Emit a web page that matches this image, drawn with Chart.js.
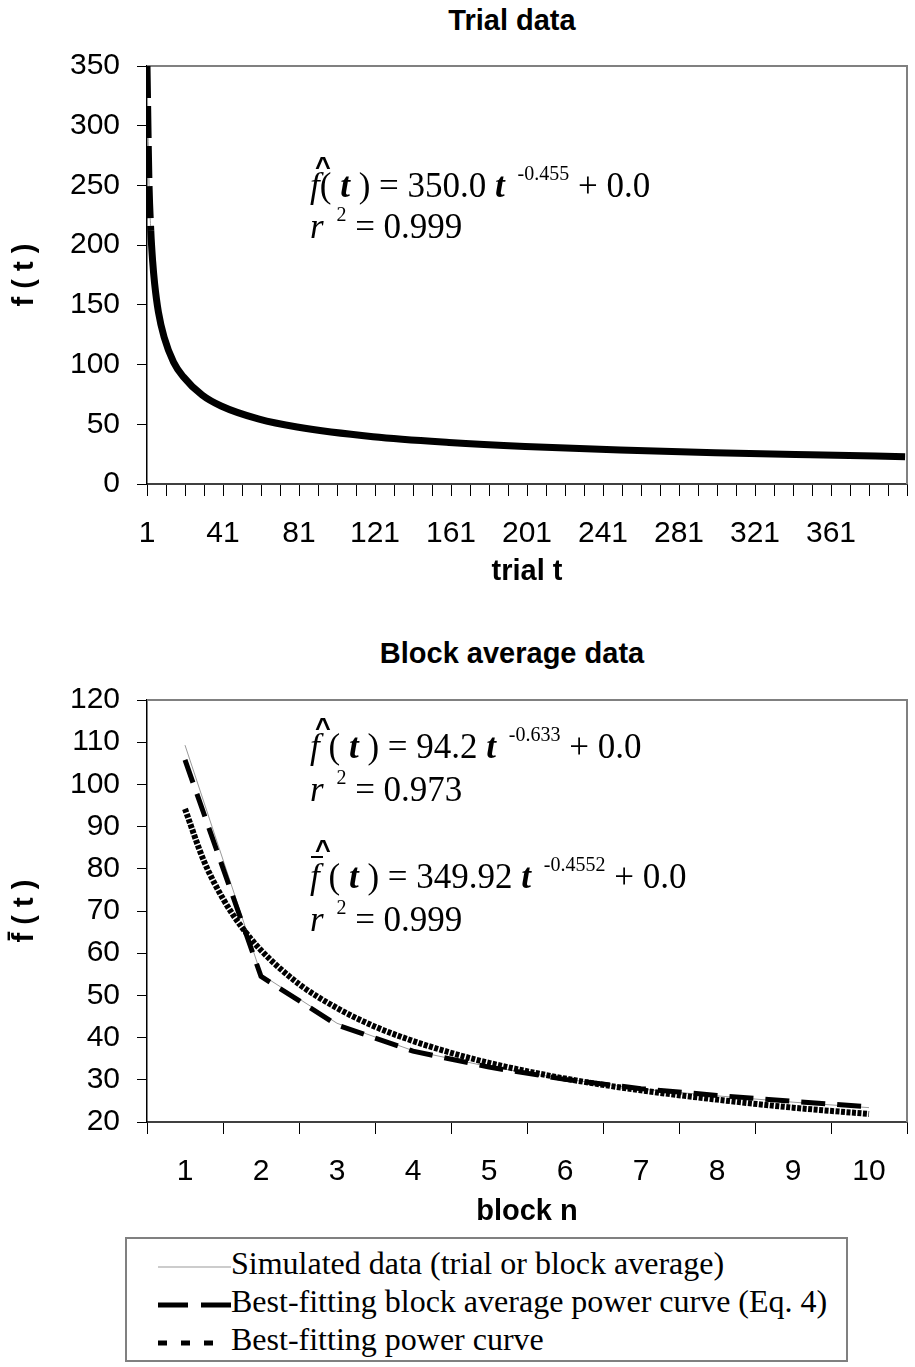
<!DOCTYPE html>
<html>
<head>
<meta charset="utf-8">
<script src="https://cdn.jsdelivr.net/npm/chart.js@4.4.0/dist/chart.umd.min.js"></script>
<style>
  body { margin: 0; background: #fff; }
  #page { position: relative; width: 915px; height: 1367px; overflow: hidden; background: #fff; }
  canvas { position: absolute; left: 0; }
  .title { position: absolute; left: 362px; width: 300px; text-align: center; font: bold 29px "Liberation Sans", Arial, sans-serif; color: #000; }
  .eq { position: absolute; left: 310px; font: 35px "Liberation Serif", "Times New Roman", serif; line-height: 1; white-space: nowrap; color: #000; }
  .eq b { font-style: italic; font-weight: bold; }
  .eq i { font-style: italic; }
  .eq sup { font-size: 20px; position: relative; top: -5px; vertical-align: top; margin-left: 4px; }
  .f { font-style: italic; position: relative; }
  .hat::after { content: "^"; position: absolute; left: 5px; top: -14px; font: bold 27px "Liberation Sans", Arial, sans-serif; }
  .bar::before { content: ""; position: absolute; left: 1px; right: -3px; top: -1px; border-top: 2px solid #000; }
  .bar.hat::after { top: -22px; }
  #legend { position: absolute; left: 125px; top: 1237px; width: 719px; height: 121px; border: 2px solid #808080; }
  .row { position: absolute; left: 31px; height: 38px; font: 32px "Liberation Serif", "Times New Roman", serif; line-height: 38px; white-space: nowrap; }
  .row svg { vertical-align: middle; }
</style>
</head>
<body>
<div id="page">
  <div class="title" style="top:4px">Trial data</div>
  <canvas id="trialChart" width="915" height="600" style="top:0"></canvas>

  <div class="title" style="top:637px">Block average data</div>
  <canvas id="blockChart" width="915" height="630" style="top:600px"></canvas>

  <div class="eq" style="top:168px"><span class="f hat">f</span>( <b>t</b> ) = 350.0 <b>t</b> <sup>-0.455</sup> + 0.0</div>
  <div class="eq" style="top:209px"><i>r</i> <sup>2</sup> = 0.999</div>

  <div class="eq" style="top:729px"><span class="f hat">f</span> ( <b>t</b> ) = 94.2 <b>t</b> <sup>-0.633</sup> + 0.0</div>
  <div class="eq" style="top:772px"><i>r</i> <sup>2</sup> = 0.973</div>
  <div class="eq" style="top:859px"><span class="f bar hat">f</span> ( <b>t</b> ) = 349.92 <b>t</b> <sup>-0.4552</sup> + 0.0</div>
  <div class="eq" style="top:902px"><i>r</i> <sup>2</sup> = 0.999</div>

  <div id="legend">
    <div class="row" style="top:5px"><svg width="73" height="12"><line x1="0" y1="6" x2="73" y2="6" stroke="#999" stroke-width="1"/></svg>Simulated data (trial or block average)</div>
    <div class="row" style="top:43px"><svg width="73" height="12"><line x1="0" y1="6" x2="73" y2="6" stroke="#000" stroke-width="5" stroke-dasharray="30 13"/></svg>Best-fitting block average power curve (Eq. 4)</div>
    <div class="row" style="top:81px"><svg width="73" height="12"><line x1="0" y1="6" x2="60" y2="6" stroke="#000" stroke-width="5" stroke-dasharray="9 14"/></svg>Best-fitting power curve</div>
  </div>
</div>

<script>
// top chart: trial data
const trialT = [1, 2, 3, 4, 5, 7, 10, 15, 20, 30, 40, 60, 80, 120, 160, 200, 250, 300, 350, 400];
const trialSimulated = [350, 255, 212, 186, 168, 144, 123, 102, 90, 74.5, 65.3, 54.3, 47.7, 39.6, 34.8, 31.4, 28.4, 26.1, 24.4, 22.9];
const trialFit = [350, 255, 212, 186, 168, 144, 123, 102, 90, 74.5, 65.3, 54.3, 47.7, 39.6, 34.8, 31.4, 28.4, 26.1, 24.4, 22.9];
const trialTickLabels = [1, 41, 81, 121, 161, 201, 241, 281, 321, 361];

// bottom chart: block averages
const blocks = [1, 2, 3, 4, 5, 6, 7, 8, 9, 10];
const blockSimulated = [109.3, 55.0, 43.4, 36.9, 33.1, 30.2, 27.8, 26.2, 24.7, 23.4];
const blockFitEq4 = [105.8, 54.5, 43.0, 36.8, 33.0, 30.1, 27.9, 26.3, 24.9, 23.6];
const powerX = [1, 1.25, 1.5, 1.75, 2, 2.5, 3, 3.5, 4, 4.5, 5, 6, 7, 8, 9, 10];
const powerFit = [94.2, 81.8, 72.9, 66.1, 60.7, 52.7, 47.0, 42.6, 39.2, 36.4, 34.0, 30.3, 27.5, 25.3, 23.4, 21.9];

const sans = 'Liberation Sans';

function pts(xs, ys) {
  return xs.map((x, i) => ({ x: x, y: ys[i] }));
}

// gray frame on top and right of the plot area
const frame = {
  id: 'frame',
  beforeDatasetsDraw(chart) {
    const { ctx, chartArea: a } = chart;
    ctx.save();
    ctx.strokeStyle = '#808080';
    ctx.lineWidth = 2;
    ctx.beginPath();
    ctx.moveTo(a.left, a.top);
    ctx.lineTo(a.right, a.top);
    ctx.lineTo(a.right, a.bottom);
    ctx.stroke();
    ctx.restore();
  }
};

function yAxis(min, max, step, title) {
  return {
    min: min, max: max,
    ticks: { stepSize: step, padding: 17, color: '#000', font: { family: sans, size: 30 } },
    grid: { drawOnChartArea: false, tickLength: 10, color: '#000' },
    border: { color: '#000', width: 1.5 },
    title: { display: true, text: title, color: '#000', font: { family: sans, size: 29, weight: 'bold' }, padding: 0 },
    afterFit: s => { s.width = 139; }
  };
}

function xFit(h) {
  return s => { s.height = h; s.paddingLeft = 0; s.paddingRight = 0; };
}

new Chart(document.getElementById('trialChart'), {
  type: 'line',
  data: {
    datasets: [
      {
        label: 'Best-fitting power curve',
        data: pts(trialT, trialFit),
        borderColor: '#000',
        borderWidth: 7,
        pointRadius: 0,
        cubicInterpolationMode: 'monotone',
        segment: { borderDash: c => c.p1.parsed.x <= 3 ? [32, 8] : undefined }
      },
      {
        label: 'Simulated data',
        data: pts(trialT, trialSimulated),
        borderColor: '#999',
        borderWidth: 1,
        pointRadius: 0,
        cubicInterpolationMode: 'monotone'
      }
    ]
  },
  options: {
    responsive: false,
    animation: false,
    devicePixelRatio: 1,
    layout: { padding: { top: 66, left: 8, right: 8, bottom: 0 } },
    plugins: { legend: { display: false }, tooltip: { enabled: false } },
    scales: {
      x: {
        type: 'linear', min: 1, max: 401,
        afterBuildTicks: s => { s.ticks = Array.from({ length: 41 }, (_, i) => ({ value: 1 + 10 * i })); },
        ticks: {
          autoSkip: false, maxRotation: 0, padding: 20, color: '#000',
          font: { family: sans, size: 30 },
          callback: v => trialTickLabels.includes(v) ? String(v) : ''
        },
        grid: { drawOnChartArea: false, tickLength: 12, color: '#000' },
        border: { color: '#404040', width: 2 },
        title: { display: true, text: 'trial t', color: '#000', font: { family: sans, size: 29, weight: 'bold' }, padding: { top: 0, bottom: 11 } },
        afterFit: xFit(116)
      },
      y: yAxis(0, 350, 50, 'f ( t )')
    }
  },
  plugins: [frame]
});

new Chart(document.getElementById('blockChart'), {
  type: 'line',
  data: {
    datasets: [
      {
        label: 'Best-fitting power curve',
        data: pts(powerX, powerFit),
        borderColor: '#000',
        borderWidth: 6,
        borderDash: [4, 1.5],
        pointRadius: 0,
        cubicInterpolationMode: 'monotone'
      },
      {
        label: 'Best-fitting block average power curve (Eq. 4)',
        data: pts(blocks, blockFitEq4),
        borderColor: '#000',
        borderWidth: 5,
        borderDash: [24, 12],
        pointRadius: 0,
        tension: 0
      },
      {
        label: 'Simulated data (trial or block average)',
        data: pts(blocks, blockSimulated),
        borderColor: '#999',
        borderWidth: 1,
        pointRadius: 0,
        tension: 0
      }
    ]
  },
  options: {
    responsive: false,
    animation: false,
    devicePixelRatio: 1,
    layout: { padding: { top: 100, left: 8, right: 8, bottom: 0 } },
    plugins: { legend: { display: false }, tooltip: { enabled: false } },
    scales: {
      x: {
        type: 'linear', min: 0.5, max: 10.5,
        afterBuildTicks: s => { s.ticks = blocks.map(v => ({ value: v })); },
        ticks: { autoSkip: false, maxRotation: 0, padding: 20, color: '#000', font: { family: sans, size: 30 } },
        grid: { drawOnChartArea: false, offset: true, tickLength: 12, color: '#000' },
        border: { color: '#404040', width: 2 },
        title: { display: true, text: 'block n', color: '#000', font: { family: sans, size: 29, weight: 'bold' }, padding: { top: 0, bottom: 1 } },
        afterFit: xFit(108)
      },
      y: yAxis(20, 120, 10, 'f\u0304 ( t )')
    }
  },
  plugins: [frame]
});
</script>
</body>
</html>
